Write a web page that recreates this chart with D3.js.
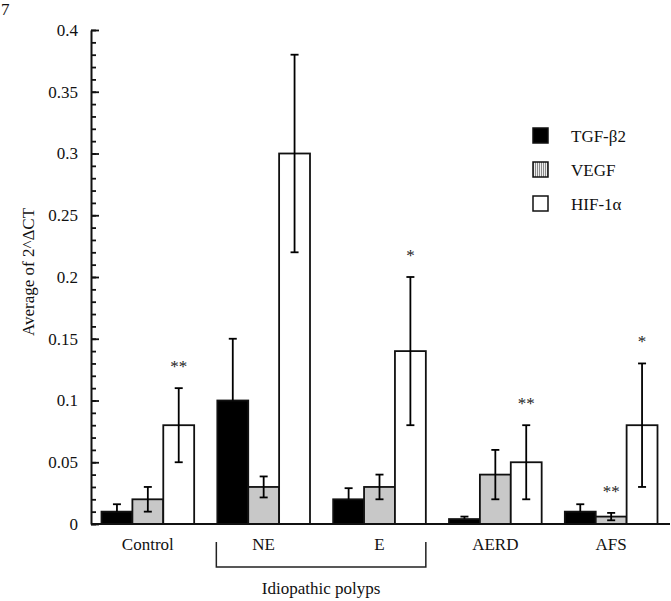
<!DOCTYPE html>
<html>
<head>
<meta charset="utf-8">
<script src="https://cdn.jsdelivr.net/npm/d3@7"></script>
<style>
  html, body { margin: 0; padding: 0; background: #fff; }
</style>
</head>
<body>
<svg id="chart" width="671" height="601"></svg>
<script>
// ---- data ----
const categories = ["Control", "NE", "E", "AERD", "AFS"];
const seriesNames = ["TGF-β2", "VEGF", "HIF-1α"];
const tgfValues  = [0.010, 0.100, 0.020, 0.004, 0.010];
const tgfErrors  = [0.006, 0.050, 0.009, 0.002, 0.006];
const vegfValues = [0.020, 0.030, 0.030, 0.040, 0.006];
const vegfErrors = [0.010, 0.0085, 0.010, 0.020, 0.003];
const hifValues  = [0.080, 0.300, 0.140, 0.050, 0.080];
const hifErrors  = [0.030, 0.080, 0.060, 0.030, 0.050];
const yTickValues = [0, 0.05, 0.1, 0.15, 0.2, 0.25, 0.3, 0.35, 0.4];
const yTickLabels = ["0", "0.05", "0.1", "0.15", "0.2", "0.25", "0.3", "0.35", "0.4"];
const annotations = [
  { cat: "Control", series: "HIF-1α", mark: "**" },
  { cat: "E",       series: "HIF-1α", mark: "*" },
  { cat: "AERD",    series: "HIF-1α", mark: "**" },
  { cat: "AFS",     series: "VEGF",   mark: "**" },
  { cat: "AFS",     series: "HIF-1α", mark: "*" }
];
const groupBracket = { from: "NE", to: "E", label: "Idiopathic polyps" };
const yAxisTitle = "Average of 2^ΔCT";
const panelLabel = "7";

// ---- build table ----
const valueSets = [tgfValues, vegfValues, hifValues];
const errorSets = [tgfErrors, vegfErrors, hifErrors];
const rows = [];
categories.forEach((c, i) => {
  seriesNames.forEach((s, j) => {
    rows.push({ cat: c, series: s, value: valueSets[j][i], err: errorSets[j][i] });
  });
});

const FONT = "'Liberation Serif'";
const fills = { "TGF-β2": "#000", "VEGF": "#c8c8c8", "HIF-1α": "#fff" };

const svg = d3.select("#chart");
const defs = svg.append("defs");
const pat = defs.append("pattern").attr("id", "vegfHatch")
  .attr("patternUnits", "userSpaceOnUse").attr("width", 2).attr("height", 2);
pat.append("rect").attr("width", 2).attr("height", 2).attr("fill", "#eee");
pat.append("rect").attr("width", 1).attr("height", 2).attr("fill", "#8a8a8a");

// ---- scales ----
const axisX = 91;
const y = d3.scaleLinear().domain([0, 0.4]).range([524, 30]);
const x0 = d3.scaleBand().domain(categories).range([101.5, 657.5]).paddingInner(0.2).paddingOuter(0);
const x1 = d3.scaleBand().domain(seriesNames).range([0, x0.bandwidth()]).padding(0);
const cx = d => x0(d.cat) + x1(d.series) + x1.bandwidth() / 2;

// ---- bars ----
const g = svg.append("g");
g.selectAll("rect.bar").data(rows).join("rect")
  .attr("class", "bar")
  .attr("x", d => x0(d.cat) + x1(d.series))
  .attr("y", d => y(d.value))
  .attr("width", x1.bandwidth())
  .attr("height", d => y(0) - y(d.value))
  .attr("fill", d => fills[d.series])
  .attr("stroke", "#111")
  .attr("stroke-width", 1.8);

// ---- error bars (lower half hidden inside black bars) ----
const capW = 4;
const lowOf = d => d.series === "TGF-β2" ? d.value : Math.max(0, d.value - d.err);
const eb = g.selectAll("g.err").data(rows).join("g").attr("class", "err")
  .attr("stroke", "#000").attr("stroke-width", 1.8);
eb.append("line")
  .attr("x1", cx).attr("x2", cx)
  .attr("y1", d => y(d.value + d.err))
  .attr("y2", d => y(lowOf(d)));
eb.append("line")
  .attr("x1", d => cx(d) - capW).attr("x2", d => cx(d) + capW)
  .attr("y1", d => y(d.value + d.err))
  .attr("y2", d => y(d.value + d.err));
eb.filter(d => d.series !== "TGF-β2").append("line")
  .attr("x1", d => cx(d) - capW).attr("x2", d => cx(d) + capW)
  .attr("y1", d => y(lowOf(d)))
  .attr("y2", d => y(lowOf(d)));

// ---- annotations ----
const rowOf = (c, s) => rows.find(r => r.cat === c && r.series === s);
g.selectAll("text.ann").data(annotations).join("text")
  .attr("class", "ann")
  .attr("x", d => cx(rowOf(d.cat, d.series)))
  .attr("y", d => { const r = rowOf(d.cat, d.series); return y(r.value + r.err) - 16; })
  .attr("text-anchor", "middle")
  .attr("font-size", 17)
  .style("font-family", FONT)
  .attr("fill", "#222")
  .text(d => d.mark);

// ---- y axis ----
const yMinor = svg.append("g").attr("transform", `translate(${axisX},0)`)
  .call(d3.axisRight(y).ticks(40).tickSize(5).tickSizeOuter(0).tickFormat(""));
yMinor.select(".domain").remove();
yMinor.selectAll("line").attr("stroke", "#111").attr("stroke-width", 1.8);

const yAx = svg.append("g").attr("transform", `translate(${axisX},0)`)
  .call(d3.axisLeft(y).tickValues(yTickValues).tickSizeInner(-8).tickSizeOuter(0).tickPadding(13)
    .tickFormat((d, i) => yTickLabels[i]));
yAx.attr("font-family", null);
yAx.select(".domain").attr("stroke", "#111").attr("stroke-width", 2);
yAx.selectAll("line").attr("stroke", "#111").attr("stroke-width", 1.8);
yAx.selectAll("text").attr("font-size", 17).style("font-family", FONT).attr("fill", "#111");

// ---- x axis ----
const xAx = svg.append("g").attr("transform", `translate(0,${y(0)})`)
  .call(d3.axisBottom(x0).tickSize(0).tickPadding(14));
xAx.attr("font-family", null);
xAx.select(".domain").remove();
xAx.selectAll("text").attr("font-size", 17).style("font-family", FONT).attr("fill", "#111");
svg.append("line").attr("x1", axisX).attr("x2", 670).attr("y1", y(0)).attr("y2", y(0))
  .attr("stroke", "#111").attr("stroke-width", 2);

// ---- bracket ----
const bL = x0(groupBracket.from) - 1, bR = x0(groupBracket.to) + x0.bandwidth();
svg.append("path")
  .attr("d", `M${bL},542V567H${bR}V542`)
  .attr("fill", "none").attr("stroke", "#222").attr("stroke-width", 1.5);
svg.append("text").attr("x", (bL + bR) / 2).attr("y", 594)
  .attr("text-anchor", "middle").attr("font-size", 17).style("font-family", FONT).attr("fill", "#111")
  .text(groupBracket.label);

// ---- y title ----
svg.append("text")
  .attr("transform", `translate(34,${(y(0) + y(0.4)) / 2 - 5}) rotate(-90)`)
  .attr("text-anchor", "middle").attr("font-size", 17).style("font-family", FONT).attr("fill", "#111")
  .text(yAxisTitle);

// ---- panel label ----
svg.append("text").attr("x", 1).attr("y", 15).attr("font-size", 17).style("font-family", FONT)
  .attr("fill", "#111").text(panelLabel);

// ---- legend ----
const legend = svg.append("g").attr("transform", "translate(533,128)");
const li = legend.selectAll("g").data(seriesNames).join("g")
  .attr("transform", (d, i) => `translate(0,${i * 34})`);
li.append("rect").attr("width", 15).attr("height", 15)
  .attr("fill", d => d === "VEGF" ? "url(#vegfHatch)" : fills[d])
  .attr("stroke", "#111").attr("stroke-width", 1.5);
li.append("text").attr("x", 38).attr("y", 14).attr("font-size", 17).style("font-family", FONT)
  .attr("fill", "#111").text(d => d);
</script>
</body>
</html>
